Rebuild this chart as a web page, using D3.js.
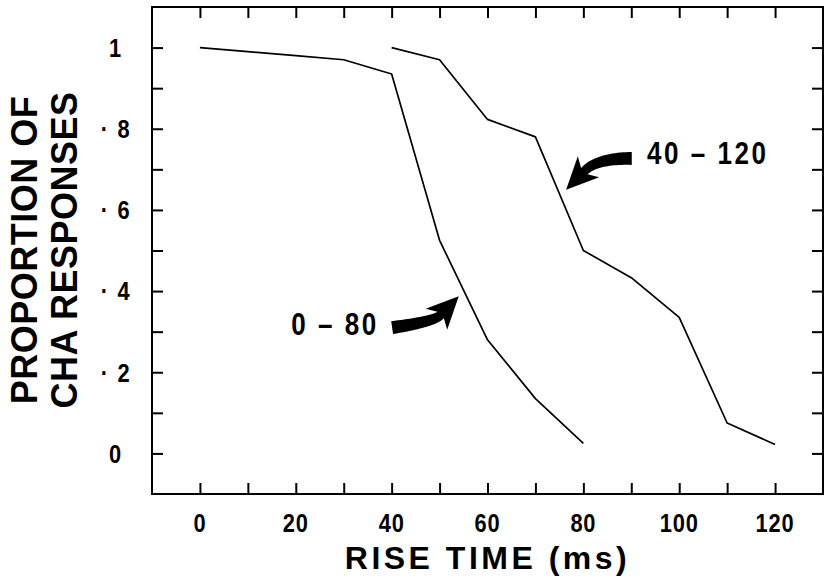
<!DOCTYPE html>
<html>
<head>
<meta charset="utf-8">
<script src="https://cdn.jsdelivr.net/npm/d3@7/dist/d3.min.js"></script>
<style>
  body { margin: 0; background: #fff; }
  svg text { font-family: "Liberation Sans", Arial, Helvetica, sans-serif; font-weight: bold; fill: #000; }
</style>
</head>
<body>
<svg id="chart" width="830" height="579"></svg>
<script>
// Data
var riseTimeA = [0, 10, 20, 30, 40, 50, 60, 70, 80];
var propA = [1.0, 0.99, 0.98, 0.97, 0.935, 0.525, 0.28, 0.135, 0.025];

var riseTimeB = [40, 50, 60, 70, 80, 90, 100, 110, 120];
var propB = [1.0, 0.97, 0.823, 0.78, 0.50, 0.433, 0.335, 0.075, 0.022];

var xTickLabels = [0, 20, 40, 60, 80, 100, 120];
var yTickValues = [0, 0.2, 0.4, 0.6, 0.8, 1];
var yTickLabels = ["0", "\u00b7 2", "\u00b7 4", "\u00b7 6", "\u00b7 8", "1"];

// Annotation arrows (data units): tail, bend, tip
var arrowLabels = ["40 \u2013 120", "0 \u2013 80"];
var arrowTails = [[90.1, 0.727], [40.1, 0.31]];
var arrowBends = [[82.8, 0.727], [48.9, 0.325]];
var arrowTips = [[76.4, 0.650], [54.0, 0.387]];
var labelAnchors = [[93.3, 0.712], [37.3, 0.293]];

// Drawing area
var margin = {top: 7, right: 7, bottom: 85, left: 152},
    width = 830 - margin.left - margin.right,
    height = 579 - margin.top - margin.bottom;

var svg = d3.select("#chart");
var g = svg.append("g")
    .attr("transform", "translate(" + margin.left + "," + margin.top + ")");

var x = d3.scaleLinear().domain([-10, 130]).range([0, width]);
var y = d3.scaleLinear().domain([-0.1, 1.1]).range([height, 0]);

var condensed = 0.84;

// Inward ticks on all four sides
var xTicks = d3.range(0, 121, 10);
var yTicks = d3.range(0, 1.01, 0.1);

function tickAxis(axis, transform) {
    var a = g.append("g")
        .attr("transform", transform)
        .call(axis);
    a.select(".domain").remove();
    a.selectAll("line").attr("stroke", "#000").attr("stroke-width", 2);
    return a;
}

tickAxis(d3.axisBottom(x).tickValues(xTicks).tickSize(-11).tickFormat(""), "translate(0," + height + ")");
tickAxis(d3.axisTop(x).tickValues(xTicks).tickSize(-11).tickFormat(""), "translate(0,0)");
tickAxis(d3.axisLeft(y).tickValues(yTicks).tickSize(-11).tickFormat(""), "translate(0,0)");
tickAxis(d3.axisRight(y).tickValues(yTicks).tickSize(-11).tickFormat(""), "translate(" + width + ",0)");

// Frame
g.append("rect")
    .attr("width", width)
    .attr("height", height)
    .attr("fill", "none")
    .attr("stroke", "#000")
    .attr("stroke-width", 2);

// Tick labels
g.selectAll(".xlab")
    .data(xTickLabels)
    .enter().append("text")
    .attr("class", "xlab")
    .attr("transform", function(d) { return "translate(" + x(d) + "," + (height + 38) + ") scale(" + condensed + ",1)"; })
    .attr("text-anchor", "middle")
    .attr("font-size", 26)
    .attr("letter-spacing", 1)
    .text(function(d) { return d; });

g.selectAll(".ylab")
    .data(yTickValues)
    .enter().append("text")
    .attr("class", "ylab")
    .attr("transform", function(d) { return "translate(-36," + y(d) + ") scale(" + condensed + ",1)"; })
    .attr("text-anchor", "middle")
    .attr("dy", "0.36em")
    .attr("font-size", 26)
    .attr("letter-spacing", 2)
    .text(function(d, i) { return yTickLabels[i]; });

// Curves
var line = d3.line()
    .x(function(d) { return x(d[0]); })
    .y(function(d) { return y(d[1]); });

[d3.zip(riseTimeA, propA), d3.zip(riseTimeB, propB)].forEach(function(pts) {
    g.append("path")
        .attr("d", line(pts))
        .attr("fill", "none")
        .attr("stroke", "#000")
        .attr("stroke-width", 1.7)
        .attr("stroke-linejoin", "round");
});

// Thick curved arrows
function arrowShape(t, c, p) {
    var T = [x(t[0]), y(t[1])], C = [x(c[0]), y(c[1])], P = [x(p[0]), y(p[1])];
    var dx = P[0] - C[0], dy = P[1] - C[1], len = Math.hypot(dx, dy);
    var u = [dx / len, dy / len];
    var headLen = 26, headHalf = 15;
    var B = [P[0] - u[0] * headLen, P[1] - u[1] * headLen];
    var left = [], right = [], n = 24;
    for (var i = 0; i <= n; i++) {
        var s = i / n, r = 1 - s;
        var px = r * r * T[0] + 2 * r * s * C[0] + s * s * B[0];
        var py = r * r * T[1] + 2 * r * s * C[1] + s * s * B[1];
        var tx = 2 * r * (C[0] - T[0]) + 2 * s * (B[0] - C[0]);
        var ty = 2 * r * (C[1] - T[1]) + 2 * s * (B[1] - C[1]);
        var tl = Math.hypot(tx, ty);
        var nx = -ty / tl, ny = tx / tl;
        var w = (13 - 4 * s) / 2;
        left.push([px + nx * w, py + ny * w]);
        right.push([px - nx * w, py - ny * w]);
    }
    var nrm = [-u[1], u[0]];
    var back = 6;
    var barbL = [B[0] + nrm[0] * headHalf - u[0] * back, B[1] + nrm[1] * headHalf - u[1] * back];
    var barbR = [B[0] - nrm[0] * headHalf - u[0] * back, B[1] - nrm[1] * headHalf - u[1] * back];
    var outline = left.concat([barbL, P, barbR], right.reverse());
    return d3.line()(outline) + "Z";
}

arrowLabels.forEach(function(lab, i) {
    g.append("path")
        .attr("d", arrowShape(arrowTails[i], arrowBends[i], arrowTips[i]))
        .attr("fill", "#000");
    g.append("text")
        .attr("transform", "translate(" + x(labelAnchors[i][0]) + "," + y(labelAnchors[i][1]) + ") scale(" + condensed + ",1)")
        .attr("text-anchor", i === 0 ? "start" : "end")
        .attr("font-size", 31)
        .attr("letter-spacing", 3)
        .text(lab);
});

// Axis titles
svg.append("text")
    .attr("x", margin.left + x(60))
    .attr("y", 569)
    .attr("text-anchor", "middle")
    .attr("font-size", 32)
    .attr("letter-spacing", 3.5)
    .text("RISE TIME (ms)");

var yTitle = svg.append("text")
    .attr("transform", "translate(0,250) rotate(-90)")
    .attr("text-anchor", "middle")
    .attr("font-size", 36)
    .attr("letter-spacing", 0.5);
yTitle.append("tspan").attr("x", 0).attr("y", 37).text("PROPORTION OF");
yTitle.append("tspan").attr("x", 0).attr("y", 77).text("CHA RESPONSES");
</script>
</body>
</html>
